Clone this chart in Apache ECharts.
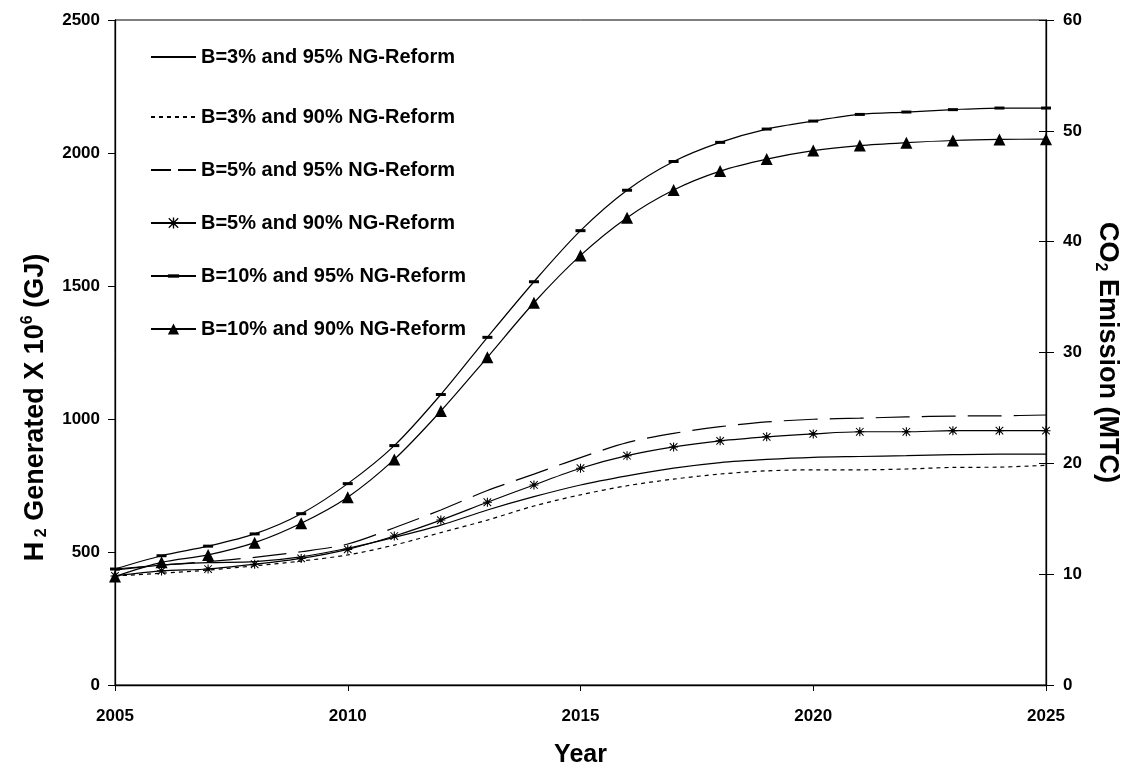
<!DOCTYPE html>
<html>
<head>
<meta charset="utf-8">
<script src="https://cdn.jsdelivr.net/npm/echarts@6/dist/echarts.min.js"></script>
<style>
html,body{margin:0;padding:0;background:#fff;}
#chart{width:1127px;height:770px;}
</style>
</head>
<body>
<div id="chart"></div>
<script>
const years = [2005,2006,2007,2008,2009,2010,2011,2012,2013,2014,2015,2016,2017,2018,2019,2020,2021,2022,2023,2024,2025];
const seriesNames = [
  'B=3% and 95% NG-Reform',
  'B=3% and 90% NG-Reform',
  'B=5% and 95% NG-Reform',
  'B=5% and 90% NG-Reform',
  'B=10% and 95% NG-Reform',
  'B=10% and 90% NG-Reform'
];
const b3_95 = [432,451,460,464,482,514,555,601,658,708,752,786,815,836,848,856,859,862,866,868,868];
const b3_90 = [410,420,432,448,466,489,526,573,620,673,715,749,774,793,805,809,809,812,818,819,826];
const b5_95 = [436,451,464,480,501,530,591,658,731,793,855,911,946,971,989,999,1003,1008,1011,1012,1015];
const b5_90 = [410,429,436,454,476,510,560,620,687,752,815,862,895,918,933,944,952,952,956,956,956];
const b10_95 = [436,486,522,568,644,757,900,1092,1307,1516,1708,1860,1968,2040,2090,2120,2145,2154,2163,2169,2169];
const b10_90 = [408,461,489,535,608,706,848,1030,1232,1437,1615,1757,1861,1932,1977,2009,2028,2039,2047,2051,2052];
const leftTicks = [0,500,1000,1500,2000,2500];
const rightTicks = [0,10,20,30,40,50,60];

const FONT = '"Liberation Sans", Arial, sans-serif';
const star = 'path://M4.4,0H5.6V10H4.4Z M0,4.4H10V5.6H0Z M1.2,0.4L9.6,8.8L8.8,9.6L0.4,1.2Z M8.8,0.4L9.6,1.2L1.2,9.6L0.4,8.8Z M3,3H7V7H3Z';
const dash = 'path://M0,-3.5L0,-3.5 M0,0H10V3H0Z M10,6.5L10,6.5';

function pairs(arr){ return years.map((y,i)=>[y,arr[i]]); }

function mk(name, data, opts){
  return Object.assign({
    name: name,
    type: 'line',
    data: pairs(data),
    smooth: 0.3,
    yAxisIndex: 0,
    symbol: 'circle',
    showSymbol: false,
    color: '#000',
    lineStyle: {color:'#000', width:1.2, type:'solid'},
    itemStyle: {color:'#000'},
    emphasis: {disabled:true},
    z: 3
  }, opts || {});
}

const legendText = {fontFamily:FONT, fontWeight:'bold', fontSize:20, lineHeight:20, color:'#000'};
const hidden = {opacity:0};
const chart = echarts.init(document.getElementById('chart'), null, {renderer:'canvas'});
const option = {
  backgroundColor: '#fff',
  animation: false,
  grid: {left:115, right:81, top:20, bottom:85, containLabel:false, outerBoundsMode:'none',
         show:true, borderColor:'#000', borderWidth:1, backgroundColor:'transparent'},
  legend: [
    {data:[{name:seriesNames[0], itemStyle:hidden}], left:145, top:42, orient:'vertical', itemWidth:45, itemHeight:14,
     textStyle:legendText, selectedMode:false},
    {data:[
        {name:seriesNames[1], itemStyle:hidden},
        {name:seriesNames[2], itemStyle:hidden, lineStyle:{type:[20,7]}},
        {name:seriesNames[3]},
        {name:seriesNames[4]},
        {name:seriesNames[5]}
     ], left:145, top:102, orient:'vertical', itemGap:33, itemWidth:45, itemHeight:14,
     textStyle:legendText, selectedMode:false}
  ],
  xAxis: {
    type:'value', min:2005, max:2025, interval:5,
    name:'Year', nameLocation:'middle', nameGap:58,
    nameTextStyle:{fontFamily:FONT, fontWeight:'bold', fontSize:25, color:'#000'},
    axisLine:{show:true, lineStyle:{color:'#000', width:1.3}},
    axisTick:{show:true, inside:false, length:6, lineStyle:{color:'#000'}},
    axisLabel:{fontFamily:FONT, fontWeight:'bold', fontSize:17, color:'#000', margin:23, formatter:v=>String(v)},
    splitLine:{show:false}
  },
  yAxis: [
    {
      type:'value', min:leftTicks[0], max:leftTicks[leftTicks.length-1], interval:500, position:'left',
      name:'{a|H}{s| 2} {a|Generated X 10}{p|6}{a| (GJ)}', nameLocation:'middle', nameGap:64, nameRotate:90,
      nameTextStyle:{fontFamily:FONT, fontWeight:'bold', fontSize:27, color:'#000', padding:[0,110,0,0],
        rich:{
          a:{fontFamily:FONT, fontWeight:'bold', fontSize:27, color:'#000'},
          s:{fontFamily:FONT, fontWeight:'bold', fontSize:16, color:'#000', padding:[13,0,0,0]},
          p:{fontFamily:FONT, fontWeight:'bold', fontSize:16, color:'#000', padding:[0,0,15,0]}
        }},
      axisLine:{show:true, lineStyle:{color:'#000', width:1.3}},
      axisTick:{show:true, inside:false, length:7, lineStyle:{color:'#000'}},
      axisLabel:{fontFamily:FONT, fontWeight:'bold', fontSize:17, color:'#000', margin:15, formatter:v=>String(v)},
      splitLine:{show:false}
    },
    {
      type:'value', min:rightTicks[0], max:rightTicks[rightTicks.length-1], interval:10, position:'right',
      name:'{a|CO}{s|2}{a| Emission (MTC)}', nameLocation:'middle', nameGap:34, nameRotate:-90,
      nameTextStyle:{fontFamily:FONT, fontWeight:'bold', fontSize:27, color:'#000',
        rich:{
          a:{fontFamily:FONT, fontWeight:'bold', fontSize:27, color:'#000'},
          s:{fontFamily:FONT, fontWeight:'bold', fontSize:16, color:'#000', padding:[13,0,0,0]}
        }},
      axisLine:{show:true, lineStyle:{color:'#000', width:1.3}},
      axisTick:{show:true, inside:false, length:8, lineStyle:{color:'#000'}},
      axisLabel:{fontFamily:FONT, fontWeight:'bold', fontSize:17, color:'#000', margin:17},
      splitLine:{show:false}
    },
    {
      type:'value', min:rightTicks[0], max:rightTicks[rightTicks.length-1], interval:10, position:'right',
      axisLine:{show:false},
      axisTick:{show:true, inside:true, length:7, lineStyle:{color:'#000'}},
      axisLabel:{show:false},
      splitLine:{show:false}
    }
  ],
  series: [
    mk(seriesNames[0], b3_95),
    mk(seriesNames[1], b3_90, {lineStyle:{color:'#000', width:1.2, type:[4,4]}}),
    mk(seriesNames[2], b5_95, {lineStyle:{color:'#000', width:1.2, type:[34,12]}}),
    mk(seriesNames[3], b5_90, {symbol:star, symbolSize:9, showSymbol:true}),
    mk(seriesNames[4], b10_95, {symbol:dash, symbolSize:10, showSymbol:true}),
    mk(seriesNames[5], b10_90, {symbol:'triangle', symbolSize:12, showSymbol:true})
  ]
};
chart.setOption(option);
</script>
</body>
</html>
